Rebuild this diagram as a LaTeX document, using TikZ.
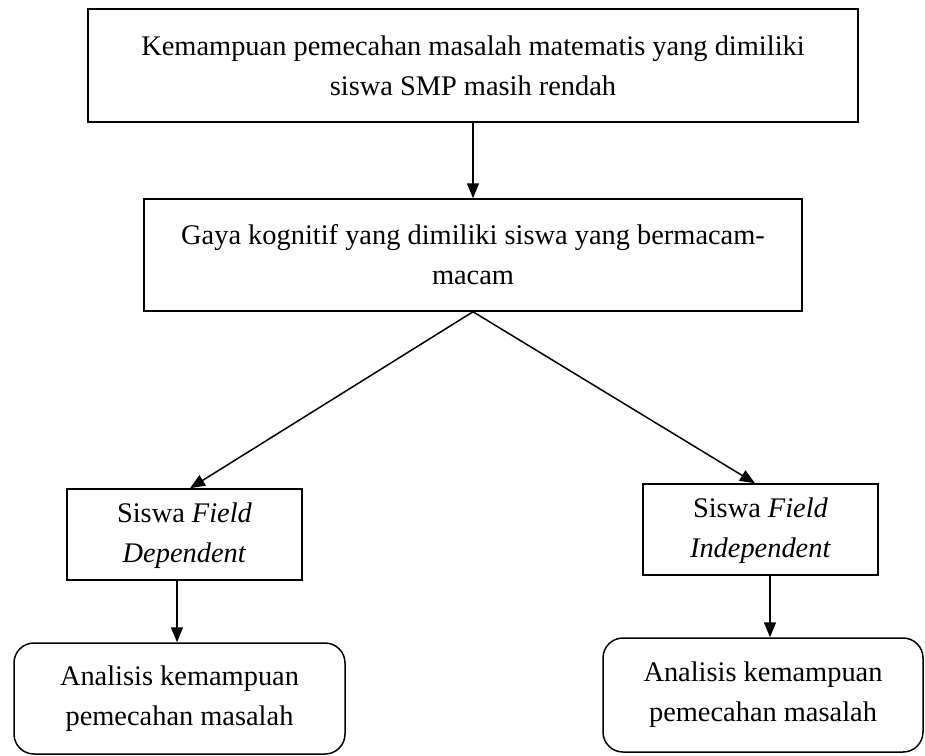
\documentclass[tikz,border=0pt]{standalone}
\usepackage{fontspec}
\setmainfont{Liberation Serif}
\usetikzlibrary{arrows.meta}
\tikzset{
  box/.style={draw, line width=1.5pt, align=center, inner sep=0pt,
    font=\fontsize{28.4}{40}\selectfont},
  rbox/.style={box, rounded corners=20pt},
  arr/.style={line width=1.5pt, -{Triangle[length=15pt,width=12pt]}}
}
\begin{document}
\begin{tikzpicture}[x=1pt,y=-1pt]
\useasboundingbox (0,0) rectangle (925,755);
\node[box, minimum width=770pt, minimum height=113pt] (top) at (473,65.5)
  {Kemampuan pemecahan masalah matematis yang dimiliki\\siswa SMP masih rendah};
\node[box, minimum width=658pt, minimum height=112pt] (gaya) at (473,255)
  {Gaya kognitif yang dimiliki siswa yang bermacam-\\macam};
\node[box, minimum width=235pt, minimum height=91pt] (fd) at (184.5,534.5)
  {\rule{0pt}{22pt}Siswa \textit{Field}\\\textit{Dependent}};
\node[box, minimum width=235pt, minimum height=91pt] (fi) at (760.5,529.5)
  {\rule{0pt}{22pt}Siswa \textit{Field}\\\textit{Independent}};
\node[rbox, minimum width=331pt, minimum height=111pt] (a1) at (179.5,698.5)
  {Analisis kemampuan\\pemecahan masalah};
\node[rbox, minimum width=320pt, minimum height=114pt] (a2) at (763,695)
  {Analisis kemampuan\\pemecahan masalah};
\draw[arr] (top.south) -- (gaya.north);
\draw[arr] (gaya.south) -- ([xshift=5.5pt]fd.north);
\draw[arr] (gaya.south) -- ([xshift=-5.5pt]fi.north);
\draw[arr] ([xshift=-7.5pt]fd.south) -- ([xshift=-7.5pt]fd.south |- a1.north);
\draw[arr] ([xshift=9.5pt]fi.south) -- ([xshift=9.5pt]fi.south |- a2.north);
\end{tikzpicture}
\end{document}
